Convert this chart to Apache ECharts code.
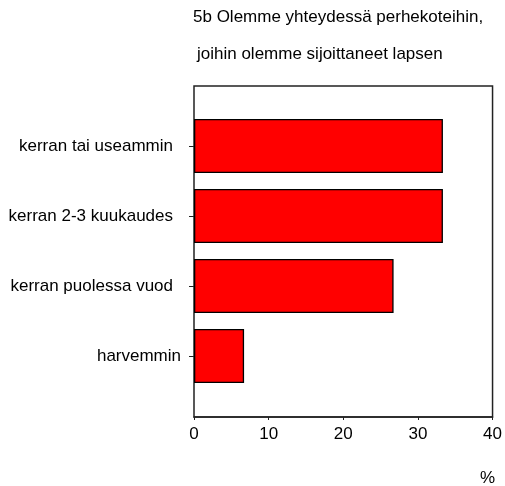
<!DOCTYPE html>
<html><head><meta charset="utf-8">
<script src="https://cdn.jsdelivr.net/npm/echarts@6/dist/echarts.min.js"></script>
<style>html,body{margin:0;padding:0;background:#fff}#c{width:505px;height:486px}</style>
</head><body><div id="c"></div>
<script>
var titleLines = ['5b Olemme yhteydessä perhekoteihin,', 'joihin olemme sijoittaneet lapsen'];
var categories = ['kerran tai useammin', 'kerran 2-3 kuukaudes', 'kerran puolessa vuod', 'harvemmin'];
var values = [33.3, 33.3, 26.7, 6.7];
var xTicks = [0, 10, 20, 30, 40];
var xUnit = '%';

var font = 'Liberation Sans, Arial, sans-serif';
var chart = echarts.init(document.getElementById('c'), null, {renderer: 'canvas'});
chart.setOption({
  animation: false,
  backgroundColor: '#fff',
  title: [
    {text: titleLines[0], left: 193, top: 9, padding: 0, textStyle: {fontFamily: font, fontSize: 17, fontWeight: 'normal', color: '#000'}},
    {text: titleLines[1], left: 197, top: 46, padding: 0, textStyle: {fontFamily: font, fontSize: 17, fontWeight: 'normal', color: '#000'}},
    {text: xUnit, left: 480, top: 470, padding: 0, textStyle: {fontFamily: font, fontSize: 17, fontWeight: 'normal', color: '#000'}}
  ],
  grid: [
    {left: 194, right: 12, top: 86, bottom: 69, show: true, borderColor: '#222', borderWidth: 1.5, backgroundColor: 'transparent'},
    {left: 194, right: 12, top: 111, bottom: 95}
  ],
  xAxis: [
    {gridIndex: 0, type: 'value', min: xTicks[0], max: xTicks[xTicks.length - 1], interval: 10,
     axisLine: {show: true, lineStyle: {color: '#222', width: 1.5}},
     axisTick: {show: true, length: 3, lineStyle: {color: '#222'}},
     axisLabel: {fontFamily: font, fontSize: 17, color: '#000', margin: 9},
     splitLine: {show: false}},
    {gridIndex: 1, type: 'value', min: 0, max: 40, show: false}
  ],
  yAxis: [
    {gridIndex: 0, type: 'value', show: false},
    {gridIndex: 1, type: 'category', data: categories, inverse: true,
     axisLine: {show: false},
     axisTick: {show: true, alignWithLabel: true, length: 5, lineStyle: {color: '#222'}},
     axisLabel: {fontFamily: font, fontSize: 17, color: '#000', margin: 13,
       formatter: function (v) { return v === 'harvemmin' ? v : '{p|' + v + '}'; },
       rich: {p: {fontFamily: font, fontSize: 17, color: '#000', padding: [0, 8, 0, 0]}}}}
  ],
  series: [{
    type: 'bar', xAxisIndex: 1, yAxisIndex: 1, data: values, barWidth: 54,
    itemStyle: {color: '#ff0000', borderColor: '#000', borderWidth: 1.3}
  }]
});
</script></body></html>
